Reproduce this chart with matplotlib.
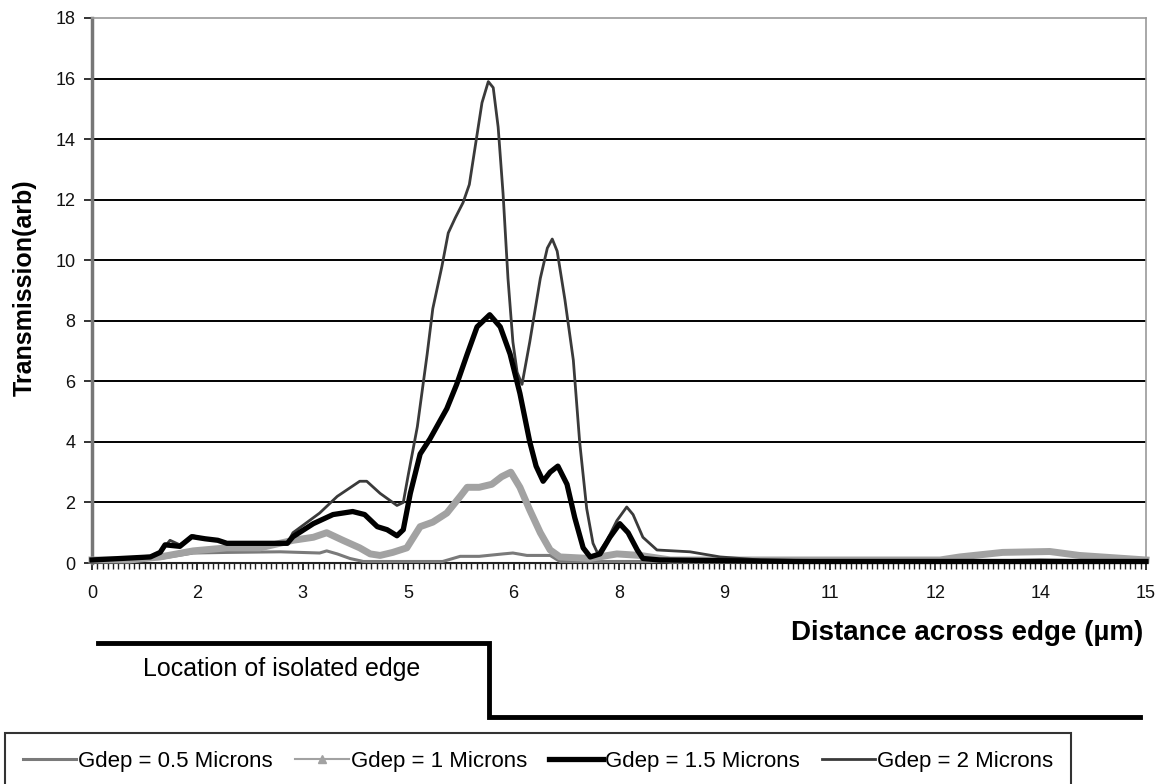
import matplotlib
matplotlib.use("Agg")
import matplotlib.pyplot as plt
from matplotlib.lines import Line2D
from matplotlib.ticker import MultipleLocator, FixedLocator
from matplotlib.transforms import blended_transform_factory

plt.rcParams['font.family'] = ['Liberation Sans', 'DejaVu Sans']

# ---- data (x in micrometres, y in arbitrary transmission units) ----
x_2 = [0, 0.4, 0.83, 0.97, 1.11, 1.25, 1.44, 1.61, 1.78, 1.92, 2.39, 2.78, 2.86, 3.24, 3.49,
       3.81, 3.91, 4.10, 4.34, 4.43, 4.50, 4.63, 4.77, 4.85, 4.98, 5.07, 5.17, 5.28, 5.37, 5.45,
       5.55, 5.64, 5.71, 5.78, 5.85, 5.92, 5.99, 6.05, 6.12, 6.23, 6.38, 6.48, 6.55, 6.62, 6.73,
       6.85, 6.94, 7.04, 7.13, 7.20, 7.33, 7.47, 7.61, 7.70, 7.84, 8.04, 8.51, 8.94, 9.51, 12.0,
       13.5, 15.0]
y_2 = [0.1, 0.15, 0.2, 0.35, 0.75, 0.6, 0.9, 0.8, 0.75, 0.65, 0.65, 0.65, 1.0, 1.65, 2.2,
       2.7, 2.7, 2.3, 1.9, 2.0, 2.9, 4.5, 6.9, 8.4, 9.8, 10.9, 11.4, 11.9, 12.5, 13.7,
       15.2, 15.9, 15.7, 14.4, 12.2, 9.4, 7.3, 6.3, 5.9, 7.3, 9.4, 10.4, 10.7, 10.3, 8.7,
       6.7, 4.0, 1.8, 0.65, 0.3, 0.75, 1.4, 1.85, 1.6, 0.85, 0.43, 0.37, 0.2, 0.1, 0.05,
       0.1, 0.05]

x_15 = [0, 0.83, 0.97, 1.04, 1.25, 1.42, 1.61, 1.79, 1.92, 2.78, 2.86, 3.15, 3.43, 3.71, 3.88,
        4.06, 4.20, 4.34, 4.43, 4.53, 4.67, 4.81, 5.05, 5.19, 5.34, 5.48, 5.66, 5.81, 5.95, 6.09,
        6.23, 6.32, 6.42, 6.52, 6.63, 6.76, 6.87, 6.99, 7.09, 7.23, 7.37, 7.51, 7.63, 7.76, 7.84,
        8.08, 10.0, 13.0, 13.8, 15.0]
y_15 = [0.1, 0.2, 0.35, 0.6, 0.55, 0.87, 0.8, 0.75, 0.65, 0.65, 0.87, 1.3, 1.6, 1.7, 1.6,
        1.2, 1.1, 0.9, 1.1, 2.3, 3.6, 4.1, 5.1, 5.9, 6.9, 7.8, 8.2, 7.8, 6.9, 5.6,
        4.0, 3.2, 2.7, 3.0, 3.2, 2.6, 1.5, 0.5, 0.2, 0.3, 0.85, 1.3, 1.0, 0.43, 0.15,
        0.1, 0.05, 0.05, 0.05, 0.05]

x_1 = [0, 0.54, 0.97, 1.44, 1.92, 2.39, 2.86, 3.15, 3.34, 3.57, 3.81, 3.96, 4.10, 4.28, 4.48,
       4.67, 4.85, 5.05, 5.24, 5.34, 5.51, 5.69, 5.83, 5.96, 6.09, 6.23, 6.38, 6.52, 6.66, 7.09,
       7.47, 7.80, 8.23, 10.08, 12.07, 12.35, 12.96, 13.63, 14.05, 15.0]
y_1 = [0.1, 0.1, 0.2, 0.4, 0.5, 0.5, 0.75, 0.85, 1.0, 0.75, 0.5, 0.3, 0.25, 0.35, 0.5,
       1.2, 1.35, 1.65, 2.2, 2.5, 2.5, 2.6, 2.85, 3.0, 2.5, 1.75, 1.0, 0.43, 0.2, 0.15,
       0.3, 0.25, 0.1, 0.1, 0.1, 0.2, 0.35, 0.38, 0.25, 0.1]

x_05 = [0, 0.97, 1.44, 1.92, 2.68, 3.24, 3.34, 3.49, 3.67, 3.86, 4.99, 5.24, 5.51, 5.85, 5.99,
        6.19, 6.52, 6.66, 15.0]
y_05 = [0.05, 0.15, 0.33, 0.35, 0.37, 0.33, 0.4, 0.3, 0.15, 0.05, 0.05, 0.22, 0.22, 0.3, 0.33,
        0.25, 0.25, 0.05, 0.05]

series_labels = ["Gdep = 0.5 Microns", "Gdep = 1 Microns", "Gdep = 1.5 Microns", "Gdep = 2 Microns"]
x_tick_values = [0, 1.5, 3, 4.5, 6, 7.5, 9, 10.5, 12, 13.5, 15]
x_tick_labels = ['0', '2', '3', '5', '6', '8', '9', '11', '12', '14', '15']
y_tick_values = [0, 2, 4, 6, 8, 10, 12, 14, 16, 18]
edge_position = 5.65   # location of isolated edge (um)
edge_extent = [0.08, 14.92]

# ---- figure ----
fig = plt.figure(figsize=(11.6, 7.84), dpi=100)
ax = fig.add_axes([92/1160, 1-563/784, (1146-92)/1160, (563-18)/784])

ax.set_xlim(0, 15)
ax.set_ylim(0, 18)

# gridlines
for yv in y_tick_values[1:-1]:
    ax.axhline(yv, color='black', lw=1.4, zorder=1)

c05, c1, c15, c2 = '#7a7a7a', '#a2a2a2', '#000000', '#3a3a3a'
ax.plot(x_05, y_05, color=c05, lw=2.2, zorder=3, clip_on=False)
ax.plot(x_1, y_1, color=c1, lw=5.0, zorder=4, clip_on=False)
ax.plot(x_2, y_2, color=c2, lw=2.0, zorder=5, clip_on=False)
ax.plot(x_15, y_15, color=c15, lw=3.8, zorder=6, clip_on=False)

# spines
ax.spines['left'].set_color('#777777')
ax.spines['left'].set_linewidth(2.5)
ax.spines['top'].set_color('#999999')
ax.spines['top'].set_linewidth(1.2)
ax.spines['right'].set_color('#999999')
ax.spines['right'].set_linewidth(1.2)
ax.spines['bottom'].set_color('#222222')
ax.spines['bottom'].set_linewidth(1.5)

ax.xaxis.set_major_locator(FixedLocator(x_tick_values))
ax.set_xticklabels(x_tick_labels)
ax.xaxis.set_minor_locator(MultipleLocator(0.075))
ax.set_yticks(y_tick_values)
ax.set_yticklabels([str(v) for v in y_tick_values])
ax.tick_params(axis='x', which='major', direction='out', length=5, width=1.2,
               labelsize=13, pad=11, colors='#111111')
ax.tick_params(axis='x', which='minor', direction='out', length=4, width=1.0, color='#222222')
ax.tick_params(axis='y', which='major', direction='out', length=6, width=1.2,
               labelsize=13, pad=6, colors='#111111')

ax.set_ylabel("Transmission(arb)", fontsize=18, fontweight='bold')
ax.yaxis.set_label_coords(-0.052, 0.505)

fig.text(1143/1160, 1-633/784, "Distance across edge (\u00b5m)", fontsize=20,
         fontweight='bold', ha='right', va='center')

# step marking the isolated edge
tr = blended_transform_factory(ax.transData, fig.transFigure)
y_hi, y_lo = 1-643/784, 1-717/784
fig.add_artist(Line2D([edge_extent[0], edge_position, edge_position, edge_extent[1]],
                      [y_hi, y_hi, y_lo, y_lo], transform=tr, color='black', lw=3.5,
                      solid_joinstyle='miter'))
fig.text(143/1160, 1-669/784, "Location of isolated edge", fontsize=18, ha='left', va='center')

# legend
handles = [Line2D([], [], color=c05, lw=2.2),
           Line2D([], [], color=c1, lw=1.5, marker='^', markersize=6),
           Line2D([], [], color=c15, lw=3.8),
           Line2D([], [], color=c2, lw=2.0)]
leg = fig.legend(handles, series_labels, ncol=4, loc='upper left',
                 bbox_to_anchor=(5/1160, 1-733/784), frameon=True, fancybox=False,
                 edgecolor='black', fontsize=16, handlelength=2.4, handletextpad=0.1,
                 columnspacing=1.0, borderpad=0.8, borderaxespad=0)
leg.get_frame().set_linewidth(1.5)

fig.savefig("out.png", dpi=100)
